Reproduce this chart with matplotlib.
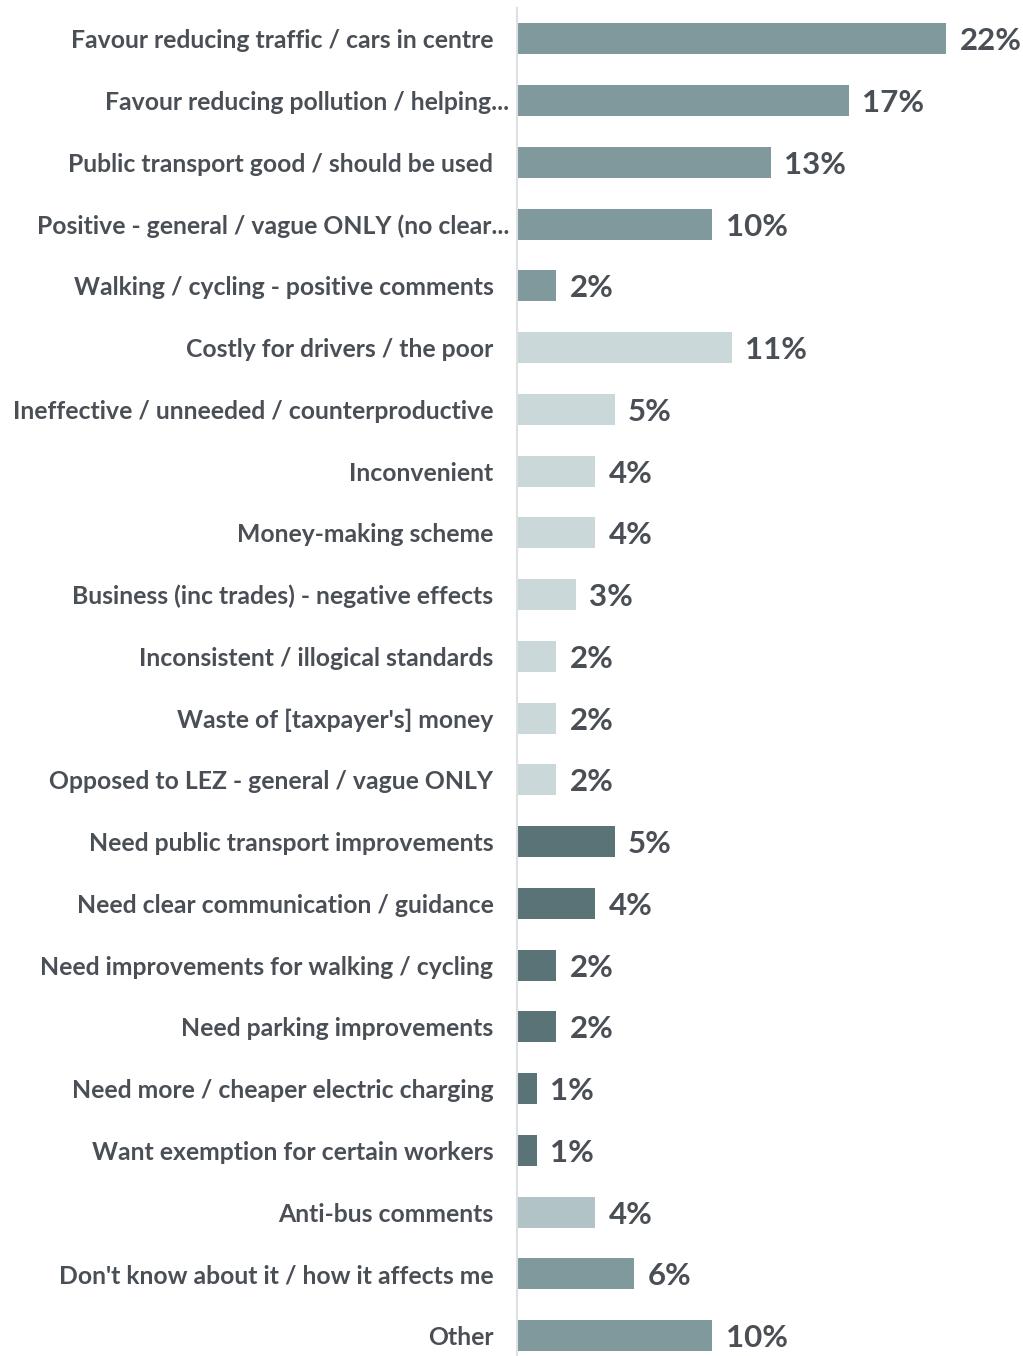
import matplotlib
matplotlib.use("Agg")
import matplotlib.pyplot as plt
from matplotlib.transforms import ScaledTranslation

categories = [
    "Favour reducing traffic / cars in centre",
    "Favour reducing pollution / helping...",
    "Public transport good / should be used",
    "Positive - general / vague ONLY (no clear...",
    "Walking / cycling - positive comments",
    "Costly for drivers / the poor",
    "Ineffective / unneeded / counterproductive",
    "Inconvenient",
    "Money-making scheme",
    "Business (inc trades) - negative effects",
    "Inconsistent / illogical standards",
    "Waste of [taxpayer's] money",
    "Opposed to LEZ - general / vague ONLY",
    "Need public transport improvements",
    "Need clear communication / guidance",
    "Need improvements for walking / cycling",
    "Need parking improvements",
    "Need more / cheaper electric charging",
    "Want exemption for certain workers",
    "Anti-bus comments",
    "Don't know about it / how it affects me",
    "Other",
]
values = [22, 17, 13, 10, 2, 11, 5, 4, 4, 3, 2, 2, 2, 5, 4, 2, 2, 1, 1, 4, 6, 10]
groups = ["positive"] * 5 + ["negative"] * 8 + ["needs"] * 6 + ["bus", "unknown", "unknown"]

palette = {
    "positive": "#7f999c",
    "negative": "#cbd8da",
    "needs": "#5a7377",
    "bus": "#b2c3c5",
    "unknown": "#7f999c",
}
text_color = "#4a4f56"

plt.rcParams["font.family"] = ["Lato", "DejaVu Sans"]

W, H = 1023, 1356
fig = plt.figure(figsize=(W / 100, H / 100), dpi=100)
ax = fig.add_axes([517 / W, 0, (W - 517) / W, (H - 8) / H])

ypos = list(range(len(categories)))
colors = [palette[g] for g in groups]
ax.barh(ypos, values, height=0.5, color=colors, edgecolor="none")

ax.set_xlim(0, (W - 517) / 19.5)
ax.set_ylim(len(categories) - 1 + 0.33, -0.5)

for y, v in zip(ypos, values):
    ax.text(v + 0.7, y, f"{v}%", va="center_baseline", ha="left", fontsize=22.5,
            fontweight="bold", color=text_color)

ax.set_yticks(ypos)
ax.set_yticklabels(categories, fontsize=17.8, color=text_color, fontweight="bold")
ax.tick_params(axis="y", length=0, pad=17)
ax.set_xticks([])

# truncated labels run right up to the axis line
nudge = ScaledTranslation(16 / 100, 0, fig.dpi_scale_trans)
for lbl in ax.get_yticklabels():
    if lbl.get_text().endswith("..."):
        lbl.set_transform(lbl.get_transform() + nudge)

for side in ("top", "right", "bottom"):
    ax.spines[side].set_visible(False)
ax.spines["left"].set_color("#dde1e6")
ax.spines["left"].set_linewidth(1.5)

fig.savefig("out.png", dpi=100, facecolor="white")
